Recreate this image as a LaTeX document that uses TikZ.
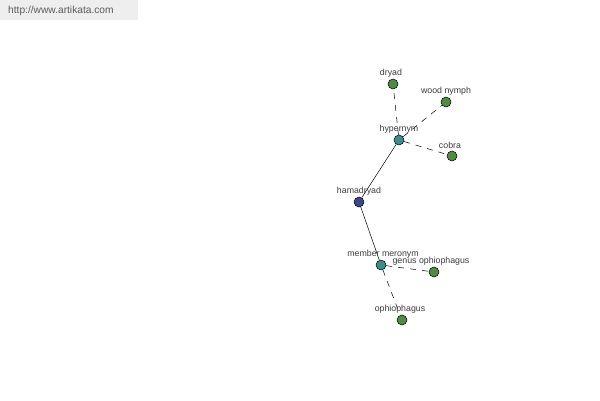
\documentclass[tikz,border=0pt]{standalone}
\usepackage{fontspec}
\setmainfont{Liberation Sans}
\definecolor{leafgreen}{RGB}{78,140,66}
\definecolor{hubteal}{RGB}{62,140,140}
\definecolor{rootblue}{RGB}{60,72,140}
\definecolor{labelgray}{RGB}{60,60,60}
\definecolor{bargray}{RGB}{238,238,238}
\begin{document}
\begin{tikzpicture}[x=1pt,y=-1pt,
  dot/.style={circle,draw=black,line width=0.5pt,minimum size=10pt,inner sep=0pt},
  leaf/.style={dot,fill=leafgreen},
  hub/.style={dot,fill=hubteal},
  root/.style={dot,fill=rootblue},
  lbl/.style={font=\fontsize{8.8}{9}\selectfont,text=labelgray,inner sep=0pt},
  rel/.style={draw=black,line width=0.5pt},
  weak/.style={draw=black,line width=0.5pt,dash pattern=on 6pt off 6pt}]
\useasboundingbox (0,0) rectangle (600,400);
\fill[bargray] (0,0) rectangle (138,20);
\node[font=\fontsize{10.2}{12}\selectfont,text={rgb,255:red,90;green,90;blue,90},anchor=west,inner sep=0pt] (url) at (8,11) {http://www.artikata.com};

\node[leaf] (dryad) at (393,84) {};
\node[leaf] (wood) at (446,102) {};
\node[hub] (hyper) at (399,140) {};
\node[leaf] (cobra) at (452,156) {};
\node[root] (hama) at (359,202) {};
\node[hub] (member) at (381,265) {};
\node[leaf] (genus) at (434,272) {};
\node[leaf] (ophio) at (402,320) {};

\draw[rel] (hama) -- (hyper);
\draw[rel] (hama) -- (member);
\draw[weak] (hyper) -- (dryad);
\draw[weak] (hyper) -- (wood);
\draw[weak] (hyper) -- (cobra);
\draw[weak] (member) -- (genus);
\draw[weak] (member) -- (ophio);

\node[lbl] (ldryad) at (391,73) {dryad};
\node[lbl] (lwood) at (446,91) {wood nymph};
\node[lbl] (lhyper) at (399,129) {hypernym};
\node[lbl] (lcobra) at (450,145) {cobra};
\node[lbl] (lhama) at (359,191) {hamadryad};
\node[lbl] (lmember) at (383,254) {member meronym};
\node[lbl] (lgenus) at (431,261) {genus ophiophagus};
\node[lbl] (lophio) at (400,309) {ophiophagus};
\end{tikzpicture}
\end{document}
